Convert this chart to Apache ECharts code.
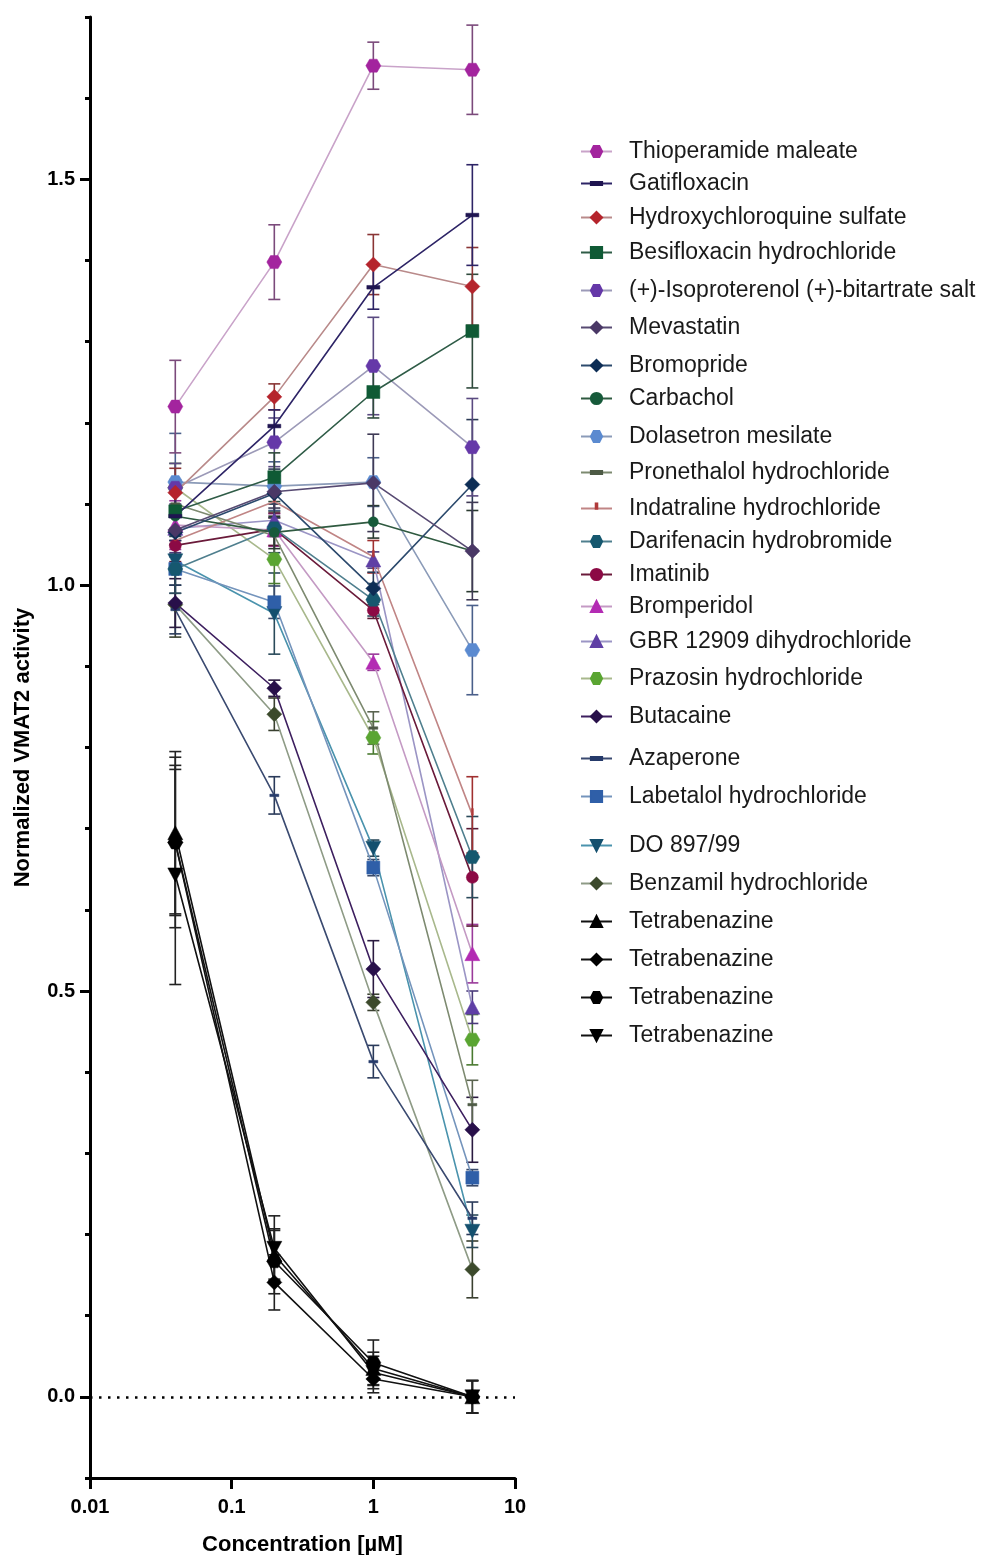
<!DOCTYPE html>
<html><head><meta charset="utf-8">
<script src="https://cdn.jsdelivr.net/npm/echarts@6/dist/echarts.min.js"></script>
<style>html,body{margin:0;padding:0;background:#fff}#c{width:989px;height:1555px}</style>
</head><body><div id="c"></div>
<script>
// ---------- DATA ----------
const concentrations = [0.04, 0.2, 1, 5]; // µM
const xTickLabels = ['0.01', '0.1', '1', '10'];
const yTickLabels = [0, 0.5, 1.0, 1.5];

const seriesNames = [
  'Thioperamide maleate', 'Gatifloxacin', 'Hydroxychloroquine sulfate', 'Besifloxacin hydrochloride',
  '(+)-Isoproterenol (+)-bitartrate salt', 'Mevastatin', 'Bromopride', 'Carbachol', 'Dolasetron mesilate',
  'Pronethalol hydrochloride', 'Indatraline hydrochloride', 'Darifenacin hydrobromide', 'Imatinib',
  'Bromperidol', 'GBR 12909 dihydrochloride', 'Prazosin hydrochloride', 'Butacaine', 'Azaperone',
  'Labetalol hydrochloride', 'DO 897/99', 'Benzamil hydrochloride',
  'Tetrabenazine', 'Tetrabenazine ', 'Tetrabenazine  ', 'Tetrabenazine   '
];

const meanThioperamide   = [1.220, 1.398, 1.640, 1.635];
const meanGatifloxacin   = [1.085, 1.196, 1.367, 1.456];
const meanHydroxychloro  = [1.114, 1.232, 1.395, 1.368];
const meanBesifloxacin   = [1.091, 1.133, 1.238, 1.313];
const meanIsoproterenol  = [1.120, 1.176, 1.270, 1.170];
const meanMevastatin     = [1.068, 1.115, 1.126, 1.042];
const meanBromopride     = [1.065, 1.113, 0.996, 1.124];
const meanCarbachol      = [1.085, 1.065, 1.078, 1.042];
const meanDolasetron     = [1.127, 1.122, 1.127, 0.920];
const meanPronethalol    = [1.100, 1.061, 0.824, 0.360];
const meanIndatraline    = [1.055, 1.103, 1.035, 0.717];
const meanDarifenacin    = [1.020, 1.070, 0.982, 0.665];
const meanImatinib       = [1.049, 1.069, 0.969, 0.640];
const meanBromperidol    = [1.074, 1.068, 0.905, 0.546];
const meanGBR12909       = [1.070, 1.080, 1.031, 0.480];
const meanPrazosin       = [1.120, 1.032, 0.812, 0.440];
const meanButacaine      = [0.978, 0.873, 0.527, 0.329];
const meanAzaperone      = [0.970, 0.741, 0.413, 0.220];
const meanLabetalol      = [1.020, 0.979, 0.652, 0.270];
const meanDO89799        = [1.030, 0.965, 0.676, 0.204];
const meanBenzamil       = [0.976, 0.841, 0.486, 0.157];
const meanTetrabenazine1 = [0.695, 0.175, 0.035, 0.000];
const meanTetrabenazine2 = [0.683, 0.141, 0.022, 0.000];
const meanTetrabenazine3 = [0.683, 0.167, 0.042, 0.000];
const meanTetrabenazine4 = [0.643, 0.183, 0.030, 0.000];

const errThioperamide   = [0.057, 0.046, 0.029, 0.055];
const errGatifloxacin   = [0.030, 0.020, 0.027, 0.062];
const errHydroxychloro  = [0.030, 0.016, 0.037, 0.048];
const errBesifloxacin   = [0.030, 0.030, 0.032, 0.070];
const errIsoproterenol  = [0.030, 0.030, 0.060, 0.060];
const errMevastatin     = [0.030, 0.020, 0.060, 0.060];
const errBromopride     = [0.030, 0.030, 0.020, 0.080];
const errCarbachol      = [0.030, 0.020, 0.020, 0.050];
const errDolasetron     = [0.060, 0.030, 0.030, 0.055];
const errPronethalol    = [0.030, 0.030, 0.020, 0.030];
const errIndatraline    = [0.030, 0.020, 0.020, 0.047];
const errDarifenacin    = [0.030, 0.030, 0.020, 0.050];
const errImatinib       = [0.020, 0.020, 0.010, 0.060];
const errBromperidol    = [0.030, 0.020, 0.010, 0.036];
const errGBR12909       = [0.030, 0.020, 0.010, 0.020];
const errPrazosin       = [0.030, 0.030, 0.020, 0.031];
const errButacaine      = [0.030, 0.010, 0.035, 0.040];
const errAzaperone      = [0.030, 0.023, 0.020, 0.020];
const errLabetalol      = [0.030, 0.020, 0.010, 0.010];
const errDO89799        = [0.030, 0.050, 0.010, 0.020];
const errBenzamil       = [0.040, 0.020, 0.010, 0.035];
const errTetrabenazine1 = [0.100, 0.030, 0.020, 0.020];
const errTetrabenazine2 = [0.090, 0.034, 0.017, 0.020];
const errTetrabenazine3 = [0.105, 0.040, 0.028, 0.020];
const errTetrabenazine4 = [0.135, 0.040, 0.020, 0.020];

const allMeans = [meanThioperamide, meanGatifloxacin, meanHydroxychloro, meanBesifloxacin, meanIsoproterenol,
  meanMevastatin, meanBromopride, meanCarbachol, meanDolasetron, meanPronethalol, meanIndatraline,
  meanDarifenacin, meanImatinib, meanBromperidol, meanGBR12909, meanPrazosin, meanButacaine, meanAzaperone,
  meanLabetalol, meanDO89799, meanBenzamil, meanTetrabenazine1, meanTetrabenazine2, meanTetrabenazine3, meanTetrabenazine4];
const allErrs = [errThioperamide, errGatifloxacin, errHydroxychloro, errBesifloxacin, errIsoproterenol,
  errMevastatin, errBromopride, errCarbachol, errDolasetron, errPronethalol, errIndatraline,
  errDarifenacin, errImatinib, errBromperidol, errGBR12909, errPrazosin, errButacaine, errAzaperone,
  errLabetalol, errDO89799, errBenzamil, errTetrabenazine1, errTetrabenazine2, errTetrabenazine3, errTetrabenazine4];

// ---------- STYLES ----------
const HEX = 'path://M2.5,0 L7.5,0 L10,4.33 L7.5,8.66 L2.5,8.66 L0,4.33 Z';
// dash / tick shapes padded to a square bounding box so they keep their look in the legend too
const DASH = 'path://M0,0 L0,0 M0,10 L0,10 M0,3.6 L10,3.6 L10,6.4 L0,6.4 Z';
const TICK = 'path://M0,0 L0,0 M10,10 L10,10 M4.3,0.5 L5.7,0.5 L5.7,5.2 L4.3,5.2 Z';
const TRI_DOWN = 'path://M0,0 L10,0 L5,9 Z';
// [symbol, size, markerColor, lineColor, errColor]
const styles = [
  [HEX, [15, 13], '#a3249e', '#c9a3c9', '#7b4a7b'],
  [DASH, [13, 13], '#1f1450', '#2d2466', '#2d2466'],
  ['diamond', [15, 15], '#b5242c', '#b98a8a', '#8a3535'],
  ['rect', [13, 13], '#0f5a35', '#2f5c47', '#2f4a3c'],
  [HEX, [15, 13], '#6538a8', '#9c9ab8', '#5a4a80'],
  ['diamond', [15, 15], '#4a3866', '#574a72', '#3f3a55'],
  ['diamond', [15, 15], '#0d2d55', '#2c4a6d', '#2a3a55'],
  ['circle', [10, 10], '#175a3a', '#2f5a40', '#2a3a30'],
  [HEX, [15, 13], '#5b8ad0', '#8b9bb8', '#4a5f8a'],
  [DASH, [9, 9], '#4d5a45', '#7d8a70', '#5a6450'],
  [TICK, [14, 14], '#b03a3a', '#c08585', '#a03030'],
  [HEX, [15, 13], '#16586f', '#4f7f8e', '#2a4a5a'],
  ['circle', [12, 12], '#8c0a45', '#6a1a3a', '#5a1a35'],
  ['triangle', [15, 14], '#b32bb3', '#c49ac4', '#9a3a9a'],
  ['triangle', [15, 14], '#5f3fa5', '#9b95c5', '#4a3a7a'],
  [HEX, [15, 13], '#5aa532', '#a8b88c', '#4a7a30'],
  ['diamond', [15, 15], '#28104a', '#3d1f5f', '#2a1a40'],
  [DASH, [9, 9], '#253a6a', '#3a4a70', '#2a3a5a'],
  ['rect', [13, 13], '#2f5fa8', '#7494bc', '#3a4a6a'],
  [TRI_DOWN, [15, 14], '#14506e', '#4a93ad', '#2a4a5a'],
  ['diamond', [15, 15], '#3c4a2c', '#8e9b86', '#3a4030'],
  ['triangle', [15, 14], '#000000', '#111111', '#222222'],
  ['diamond', [15, 15], '#000000', '#111111', '#222222'],
  [HEX, [15, 13], '#000000', '#111111', '#222222'],
  [TRI_DOWN, [15, 14], '#000000', '#111111', '#222222']
];
// legend row centres (layout)
const legendRows = [150, 182, 216, 251, 289, 326, 364, 397, 435, 471, 507, 540, 573, 605, 640, 677, 715, 757, 795, 844, 882, 920, 958, 996, 1034];

// ---------- BUILD ----------
const FONT = '"Liberation Sans", Arial, Helvetica, sans-serif';
const series = [];
const n = seriesNames.length;
for (let i = n - 1; i >= 0; i--) {
  const st = styles[i];
  const pts = concentrations.map((c, k) => [c, allMeans[i][k]]);
  const errPts = concentrations.map((c, k) => [c, allMeans[i][k], allErrs[i][k]]);
  series.push({
    type: 'custom', name: 'err_' + i, xAxisIndex: 0, yAxisIndex: 0, z: 2, silent: true,
    itemStyle: { color: st[4] },
    data: errPts,
    renderItem: function (params, api) {
      const x = api.value(0), y = api.value(1), e = api.value(2);
      const t = api.coord([x, y + e]), b = api.coord([x, y - e]);
      const cap = 6, col = api.visual('color');
      const s = { stroke: col, lineWidth: 1.6 };
      return { type: 'group', children: [
        { type: 'line', shape: { x1: t[0], y1: t[1], x2: b[0], y2: b[1] }, style: s },
        { type: 'line', shape: { x1: t[0] - cap, y1: t[1], x2: t[0] + cap, y2: t[1] }, style: s },
        { type: 'line', shape: { x1: b[0] - cap, y1: b[1], x2: b[0] + cap, y2: b[1] }, style: s }
      ]};
    }
  });
  series.push({
    type: 'line', name: seriesNames[i], xAxisIndex: 0, yAxisIndex: 0, z: 3,
    data: pts, symbol: st[0], symbolSize: st[1], showAllSymbol: true,
    itemStyle: { color: st[2], borderColor: st[2], borderWidth: 0.5 },
    lineStyle: { color: st[3], width: 1.6 },
    emphasis: { disabled: true }
  });
}
// dotted zero line
series.push({
  type: 'line', name: 'zero', data: [], xAxisIndex: 0, yAxisIndex: 0,
  markLine: { silent: true, symbol: ['none', 'none'], label: { show: false },
    lineStyle: { color: '#000', type: [2.5, 6.5], width: 2.5 },
    data: [{ yAxis: 0 }] }
});

const legends = seriesNames.map((nm, i) => ({
  data: [nm], left: 580, top: legendRows[i] - 10, padding: 0,
  itemWidth: 31, itemHeight: 14, selectedMode: false,
  textStyle: { fontSize: 23, color: '#1a1a1a', fontFamily: FONT, padding: [0, 0, 0, 12] }
}));

const chart = echarts.init(document.getElementById('c'), null, { renderer: 'canvas' });
chart.setOption({
  animation: false,
  backgroundColor: '#ffffff',
  grid: { left: 90, right: 474, top: 17, bottom: 77, containLabel: false, outerBoundsMode: 'none' },
  legend: legends,
  xAxis: [{
    type: 'log', logBase: 10, min: 0.01, max: 10,
    name: 'Concentration [µM]', nameLocation: 'middle', nameGap: 56,
    nameTextStyle: { fontSize: 22, fontWeight: 'bold', color: '#000', fontFamily: FONT },
    axisLine: { show: true, onZero: false, lineStyle: { color: '#000', width: 3 } },
    axisTick: { show: true, length: 11, lineStyle: { color: '#000', width: 3 } },
    axisLabel: { fontSize: 20, fontWeight: 'bold', color: '#000', fontFamily: FONT, margin: 19,
      formatter: v => { const idx = Math.round(Math.log10(v)) + 2; return xTickLabels[idx] || ''; } },
    splitLine: { show: false }, minorTick: { show: false }
  }],
  yAxis: [{
    type: 'value', min: -0.1, max: 1.7, position: 'left',
    name: 'Normalized VMAT2 activity', nameLocation: 'middle', nameGap: 56,
    nameTextStyle: { fontSize: 22, fontWeight: 'bold', color: '#000', fontFamily: FONT },
    axisLine: { show: true, onZero: false, lineStyle: { color: '#000', width: 3 } },
    axisTick: { show: true, length: 10, customValues: yTickLabels, lineStyle: { color: '#000', width: 3 } },
    axisLabel: { fontSize: 20, fontWeight: 'bold', color: '#000', fontFamily: FONT, margin: 15,
      customValues: yTickLabels, formatter: v => v.toFixed(1) },
    splitLine: { show: false }
  }, {
    type: 'value', min: -0.1, max: 1.7, interval: 0.1, position: 'left',
    axisLine: { show: false, onZero: false },
    axisTick: { show: true, length: 5, lineStyle: { color: '#000', width: 3 } },
    axisLabel: { show: false }, splitLine: { show: false }
  }],
  series: series
});
</script>
</body></html>
